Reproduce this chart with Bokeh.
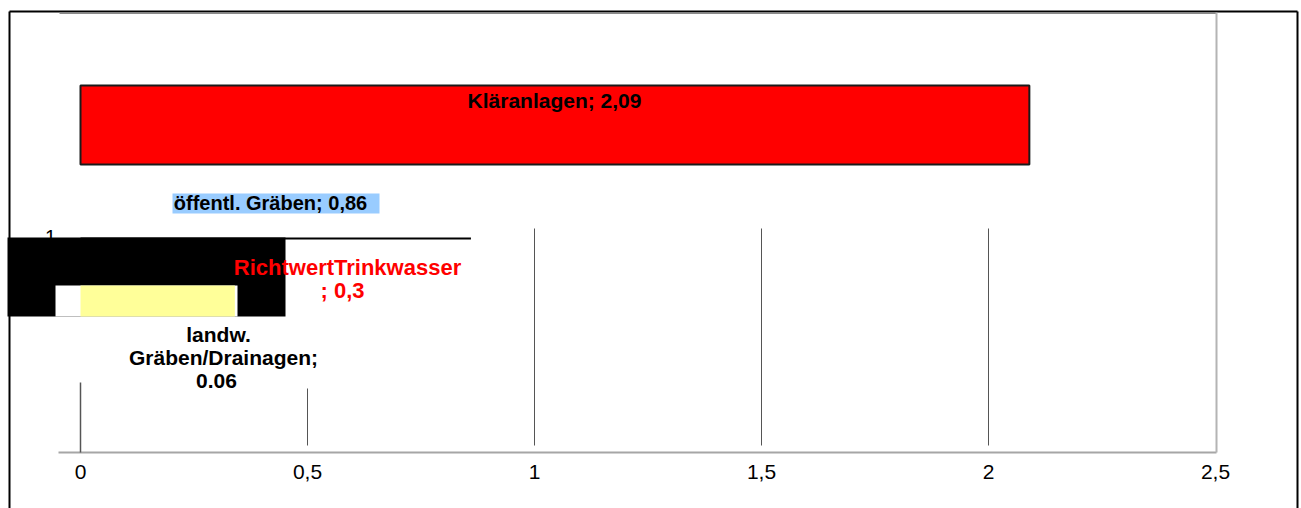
from bokeh.plotting import figure
from bokeh.models import Range1d, FixedTicker
from bokeh.core.properties import value
from bokeh.embed import file_html
from bokeh.resources import INLINE

# ---- data ----
categories = ["Kläranlagen", "öffentl. Gräben", "RichtwertTrinkwasser", "landw. Gräben/Drainagen"]
values = [2.09, 0.86, 0.3, 0.06]
value_texts = ["2,09", "0,86", "0,3", "0.06"]
yellow_value = 0.34
tick_values = [0, 0.5, 1, 1.5, 2, 2.5]
tick_labels = ["0", "0,5", "1", "1,5", "2", "2,5"]
axis_category_label = "1"

# ---- layout helpers (page pixel -> data) ----
X0, UNIT = 80.0, 454.0
def dx(px):
    return (px - X0) / UNIT

FONT = value("Liberation Sans")

p = figure(width=1301, height=508, output_backend="svg", toolbar_location=None,
           x_range=Range1d(dx(58), dx(1216)), y_range=Range1d(452, 12),
           x_axis_location="below", y_axis_location=None,
           min_border_left=58, min_border_right=85, min_border_top=12, min_border_bottom=56)
p.outline_line_color = None
p.xgrid.visible = False
p.ygrid.visible = False
p.background_fill_color = "white"
p.border_fill_color = "white"

ax = p.xaxis[0]
ax.ticker = FixedTicker(ticks=tick_values)
ax.major_label_overrides = {t: l for t, l in zip(tick_values, tick_labels)}
ax.axis_line_color = "#a6a6a6"
ax.axis_line_width = 2
ax.major_tick_line_color = None
ax.minor_tick_line_color = None
ax.major_tick_out = 0
ax.major_tick_in = 0
ax.major_label_standoff = 12
ax.major_label_text_font = "Liberation Sans"
ax.major_label_text_font_size = "21px"
ax.major_label_text_color = "black"

OV = "overlay"

# outer black border (bottom edge lies outside the window)
p.segment(x0=[dx(9), dx(9), dx(1297)], y0=[11, 11, 11],
          x1=[dx(9), dx(1297), dx(1297)], y1=[530, 11, 530],
          line_color="black", line_width=2, level=OV)

# plot-area frame: top and right edges
p.segment(x0=[dx(59)], y0=[12.8], x1=[dx(1216)], y1=[12.8], line_color="#8a8a8a", line_width=1.5, level=OV)
p.segment(x0=[dx(1216)], y0=[12], x1=[dx(1216)], y1=[452], line_color="#b4b4b4", line_width=2, level=OV)

# partial gridlines
p.segment(x0=tick_values[2:5], y0=[228] * 3, x1=tick_values[2:5], y1=[445] * 3,
          line_color="#555555", line_width=1, level=OV)
p.segment(x0=[tick_values[1]], y0=[388], x1=[tick_values[1]], y1=[445],
          line_color="#555555", line_width=1, level=OV)
p.segment(x0=[tick_values[0]], y0=[382], x1=[tick_values[0]], y1=[452],
          line_color="#555555", line_width=1.5, level=OV)

# Kläranlagen bar
p.quad(left=[0], right=[values[0]], top=[85], bottom=[164],
       fill_color="#ff0000", line_color="#1a1a1a", line_width=2, level=OV)

# öffentl. Gräben bar edge
p.segment(x0=[0], y0=[238], x1=[values[1]], y1=[238], line_color="black", line_width=2, level=OV)

# category label "1"
p.text(x=[dx(50)], y=[236], text=[axis_category_label], text_font=FONT, text_font_size="20px",
       text_align="center", text_baseline="alphabetic", text_color="black", level=OV)

# black block
p.quad(left=[dx(7)], right=[dx(285)], top=[237], bottom=[316], fill_color="black", line_color=None, level=OV)
p.quad(left=[dx(55)], right=[dx(237)], top=[285], bottom=[316], fill_color="white", line_color=None, level=OV)
# yellow bar
p.quad(left=[0], right=[yellow_value], top=[285], bottom=[316], fill_color="#ffff99", line_color=None, level=OV)

# label background for öffentl. Gräben
p.quad(left=[dx(172)], right=[dx(379)], top=[193], bottom=[213], fill_color="#99ccff", line_color=None, level=OV)

# labels
def bold(size):
    return dict(text_font=FONT, text_font_style="bold", text_font_size=size,
                text_align="center", text_baseline="alphabetic", level=OV)
p.text(x=[dx(554)], y=[100], text=[f"{categories[0]}; {value_texts[0]}"], text_color="black", **bold("21px"))
p.text(x=[dx(270)], y=[202.5], text=[f"{categories[1]}; {value_texts[1]}"], text_color="black", **bold("20px"))
p.text(x=[dx(347)], y=[266.5], text=[categories[2]], text_color="#ff0000", **bold("22px"))
p.text(x=[dx(342)], y=[290], text=[f"; {value_texts[2]}"], text_color="#ff0000", **bold("22px"))
lw_parts = categories[3].split(" ")
p.text(x=[dx(218), dx(223), dx(216)], y=[333.5, 357, 380.5],
       text=[lw_parts[0], lw_parts[1] + ";", value_texts[3]], text_color="black", **bold("21px"))

open("out.html", "w").write(file_html(p, INLINE))
